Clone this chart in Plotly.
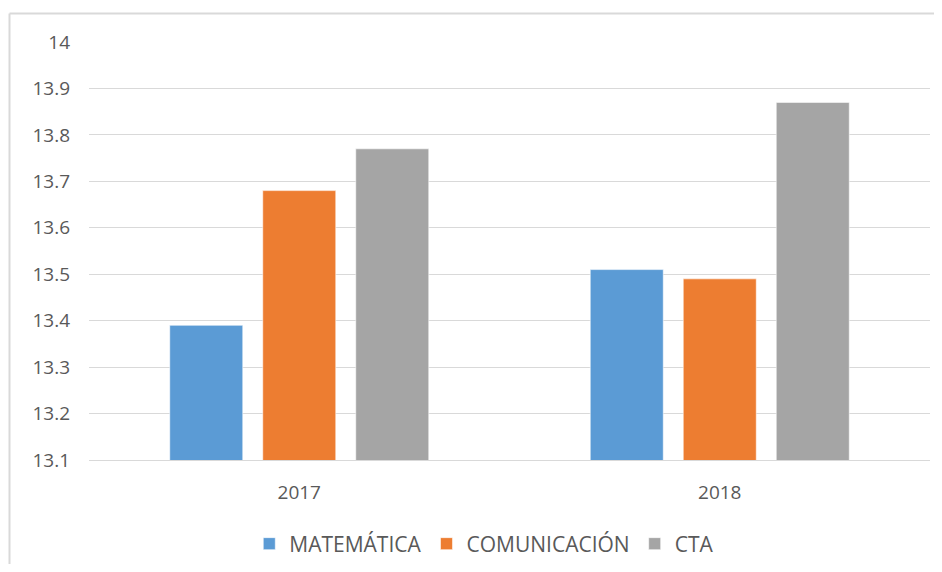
import plotly.graph_objects as go

years = ["2017", "2018"]
series_names = ["MATEMÁTICA", "COMUNICACIÓN", "CTA"]
matematica = [13.39, 13.51]
comunicacion = [13.68, 13.49]
cta = [13.77, 13.87]
colors = ["#5B9BD5", "#ED7D31", "#A5A5A5"]
tick_vals = [13.1, 13.2, 13.3, 13.4, 13.5, 13.6, 13.7, 13.8, 13.9, 14.0]
tick_text = ["13.1", "13.2", "13.3", "13.4", "13.5", "13.6", "13.7", "13.8", "13.9", "14"]

FONT = "Open Sans"
TXT = "#595959"

fig = go.Figure()
for name, vals, col in zip(series_names, [matematica, comunicacion, cta], colors):
    fig.add_trace(go.Bar(
        x=years, y=vals, name=name,
        marker=dict(color=col, line=dict(color="rgba(255,255,255,0.55)", width=1)),
    ))

# page body has an 8px margin, so the figure is offset by 8px
OFF = 8
W, H = 942 - 2 * OFF, 572 - 2 * OFF
L = 89 - OFF
T = 42 - OFF
R = W - (930 - OFF)
B = H - (460 - OFF)
pw, ph = W - L - R, H - T - B

fig.update_layout(
    width=W, height=H,
    margin=dict(l=L, r=R, t=T, b=B, autoexpand=False),
    paper_bgcolor="white", plot_bgcolor="white",
    barmode="group", bargap=0.3365, bargroupgap=0.215,
    font=dict(family=FONT, size=18, color=TXT),
    showlegend=True,
    legend=dict(orientation="h", x=0.470, xanchor="center",
                y=-(544 - 460) / ph,
                yanchor="middle", font=dict(size=21, color=TXT, family=FONT),
                itemwidth=30, traceorder="normal"),
    xaxis=dict(showgrid=False, showline=True, linecolor="#d9d9d9", linewidth=1,
               ticks="", tickfont=dict(size=19, color=TXT, family=FONT),
               ticklabelstandoff=15, automargin=False),
    yaxis=dict(range=[13.1, 14.0], tickvals=tick_vals, ticktext=tick_text,
               showgrid=True, gridcolor="#d9d9d9", gridwidth=1,
               zeroline=False, showline=False, ticks="",
               tickfont=dict(size=19, color=TXT, family=FONT),
               ticklabelstandoff=18, automargin=False),
)

# chart-area border (left and top edges visible)
bx = (9.5 - 89) / pw
by = (460 - 13.5) / ph
fig.add_shape(type="line", xref="paper", yref="paper", x0=bx, x1=(W + 5 - L) / pw,
              y0=by, y1=by, line=dict(color="#d9d9d9", width=2))
fig.add_shape(type="line", xref="paper", yref="paper", x0=bx, x1=bx,
              y0=by, y1=-(H + 5 - (H - B)) / ph, line=dict(color="#d9d9d9", width=2))

fig.write_html("out.html")
